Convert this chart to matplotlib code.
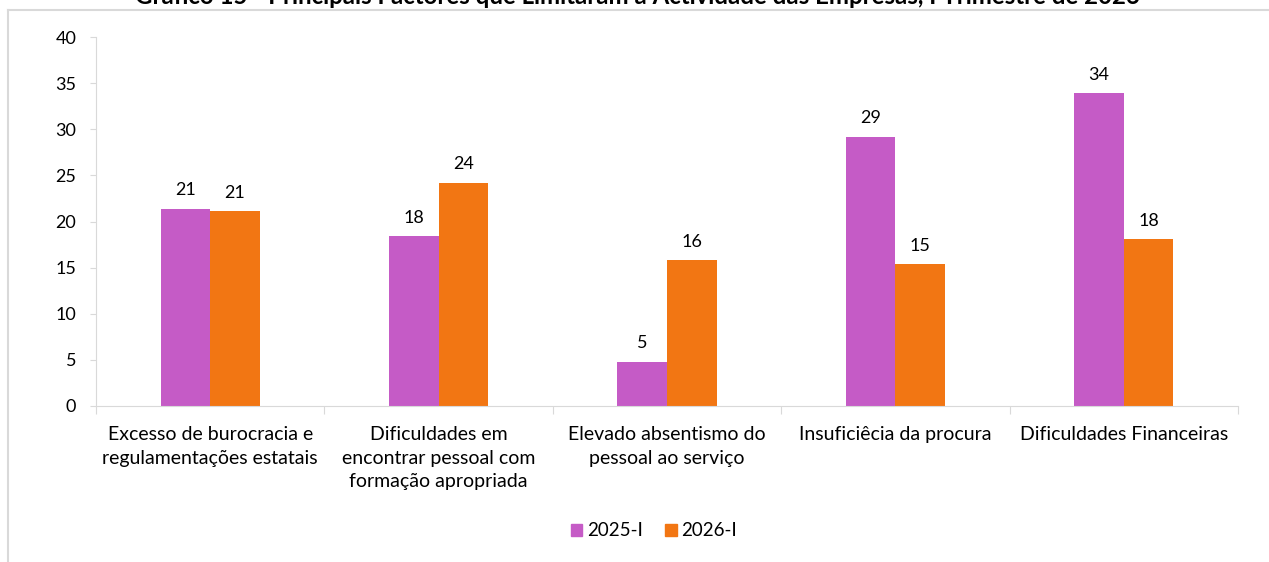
import matplotlib.pyplot as plt
from matplotlib.lines import Line2D
from matplotlib.patches import Patch
import numpy as np

plt.rcParams['font.family'] = ['Lato', 'DejaVu Sans']

# Data
categories = [
    "Excesso de burocracia e\nregulamentações estatais",
    "Dificuldades em\nencontrar pessoal com\nformação apropriada",
    "Elevado absentismo do\npessoal ao serviço",
    "Insuficiêcia da procura",
    "Dificuldades Financeiras",
]
series_names = ["2025-I", "2026-I"]
values_2025 = [21.4, 18.4, 4.8, 29.2, 33.9]
values_2026 = [21.1, 24.2, 15.8, 15.4, 18.1]
colors = ["#C55BC6", "#F27613"]

title = ("Gráfico 15 - Principais Factores que Limitaram a Actividade das "
         "Empresas, I Trimestre de 2026")

W, H = 1269, 562
fig = plt.figure(figsize=(W / 100, H / 100), dpi=100)
ax = fig.add_axes([96 / W, 1 - 406 / H, (1238 - 96) / W, (406 - 37) / H])

x = np.arange(len(categories))
width = 0.217
for vals, off, col, name in [(values_2025, -width / 2, colors[0], series_names[0]),
                             (values_2026, width / 2, colors[1], series_names[1])]:
    bars = ax.bar(x + off, vals, width, color=col, label=name, zorder=2)
    for b, v in zip(bars, vals):
        ax.annotate(f"{round(v)}", (b.get_x() + b.get_width() / 2, v),
                    xytext=(0, 7.5), textcoords="offset points",
                    ha="center", va="bottom", fontsize=13, color="#000000")

ax.set_xlim(-0.5, len(categories) - 0.5)
ax.set_ylim(0, 40)
ax.set_yticks(range(0, 41, 5))
ax.tick_params(axis="y", labelsize=13, length=4.3, color="#d9d9d9", pad=10)

# category boundaries as ticks on the x axis
ax.set_xticks(np.arange(-0.5, len(categories), 1.0))
ax.set_xticklabels([])
ax.tick_params(axis="x", length=6, color="#d9d9d9")
for i, c in enumerate(categories):
    ax.text(i, -2.2, c, ha="center", va="top", fontsize=14,
            linespacing=1.45, transform=ax.transData)

for s in ["top", "right"]:
    ax.spines[s].set_visible(False)
ax.spines["left"].set_color("#d9d9d9")
ax.spines["bottom"].set_color("#d9d9d9")

# legend
handles = [Patch(color=colors[0]), Patch(color=colors[1])]
fig.legend(handles, series_names, loc="center", bbox_to_anchor=(654 / W, 1 - 531 / H),
           ncol=2, frameon=False, fontsize=13.5, handlelength=0.6, handleheight=0.6,
           handletextpad=0.25, columnspacing=1.2)

# clipped title at the top
fig.text(637 / W, 1 - 4 / H, title, ha="center", va="baseline",
         fontsize=17.3, fontweight="bold")

# chart frame (left and top edges visible)
fig.add_artist(Line2D([8 / W, 8 / W], [0, 1 - 10 / H], color="#d9d9d9", lw=1.5))
fig.add_artist(Line2D([8 / W, 1], [1 - 10 / H, 1 - 10 / H], color="#d9d9d9", lw=1.5))

fig.savefig("out.png", dpi=100)
